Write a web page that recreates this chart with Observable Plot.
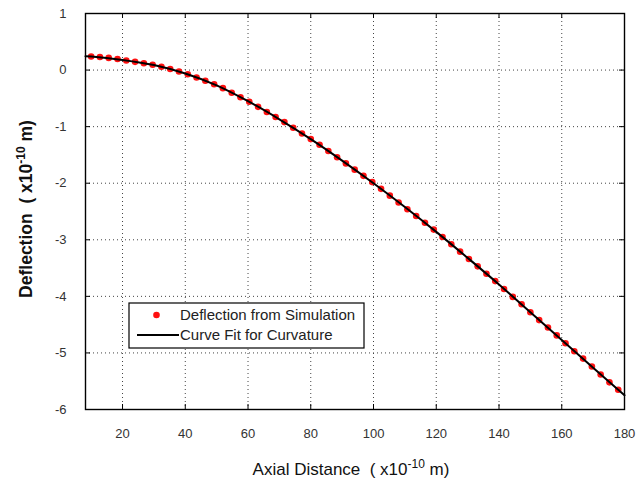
<!DOCTYPE html>
<html>
<head>
<meta charset="utf-8">
<script src="https://cdn.jsdelivr.net/npm/d3@7"></script>
<script src="https://cdn.jsdelivr.net/npm/@observablehq/plot@0.6"></script>
<style>
  html, body { margin: 0; padding: 0; background: #fff; }
</style>
</head>
<body>
<div id="chart"></div>
<script>
// Simulated deflection along the axis (x10^-10 m)
const simX = [10, 12.8, 15.6, 18.4, 21.2, 24, 26.8, 29.6, 32.4, 35.2, 38, 40.8, 43.6, 46.4, 49.2,
  52, 54.8, 57.6, 60.4, 63.2, 66, 68.8, 71.6, 74.4, 77.2, 80, 82.8, 85.6, 88.4, 91.2, 94, 96.8,
  99.6, 102.4, 105.2, 108, 110.8, 113.6, 116.4, 119.2, 122, 124.8, 127.6, 130.4, 133.2, 136,
  138.8, 141.6, 144.4, 147.2, 150, 152.8, 155.6, 158.4, 161.2, 164, 166.8, 169.6, 172.4, 175.2, 178];
const simY = [0.24, 0.23, 0.215, 0.195, 0.17, 0.145, 0.12, 0.095, 0.06, 0.02, -0.025, -0.075, -0.13,
  -0.19, -0.25, -0.32, -0.40, -0.48, -0.56, -0.65, -0.74, -0.83, -0.92, -1.02, -1.12, -1.22, -1.32,
  -1.43, -1.54, -1.65, -1.76, -1.87, -1.98, -2.10, -2.22, -2.34, -2.46, -2.58, -2.70, -2.82, -2.95,
  -3.08, -3.21, -3.34, -3.47, -3.60, -3.73, -3.87, -4.01, -4.14, -4.28, -4.42, -4.55, -4.69, -4.83,
  -4.97, -5.10, -5.24, -5.38, -5.52, -5.65];

// Fitted curvature curve
const fitX = [8.2, 10, 20, 30, 40, 50, 60, 70, 80, 90, 100, 110, 120, 130, 140, 150, 160, 170, 180];
const fitY = [0.245, 0.24, 0.18, 0.09, -0.06, -0.27, -0.55, -0.87, -1.22, -1.60, -2.00, -2.42,
  -2.86, -3.32, -3.79, -4.28, -4.77, -5.26, -5.75];

const xTicks = [20, 40, 60, 80, 100, 120, 140, 160, 180];
const yTicks = [1, 0, -1, -2, -3, -4, -5, -6];
const legendLabels = ["Deflection from Simulation", "Curve Fit for Curvature"];

const sim = simX.map((x, i) => ({x, y: simY[i]}));
const fit = fitX.map((x, i) => ({x, y: fitY[i]}));

const W = 637, H = 484;
const mL = 85, mR = 13, mT = 13, mB = 75;
const innerW = W - mL - mR, innerH = H - mT - mB;
const font = "'Liberation Sans', Arial, Helvetica, sans-serif";

const chart = Plot.plot({
  width: W,
  height: H,
  marginLeft: mL,
  marginRight: mR,
  marginTop: mT,
  marginBottom: mB,
  style: {fontFamily: font, background: "#fff"},
  x: {domain: [8.2, 180]},
  y: {domain: [-6, 1]},
  marks: [
    // dotted grid
    Plot.ruleX(xTicks.slice(0, -1), {x: d => d, stroke: "#444", strokeWidth: 1, strokeDasharray: "1,3"}),
    Plot.ruleY(yTicks.slice(1, -1), {y: d => d, stroke: "#444", strokeWidth: 1, strokeDasharray: "1,3"}),
    Plot.axisX(xTicks, {tickSize: 0, tickPadding: 19, fontSize: 13, fill: "#333",
      tickFormat: d => String(d), label: null}),
    Plot.axisY(yTicks, {tickSize: 0, tickPadding: 19, fontSize: 13, fill: "#333",
      tickFormat: d => String(d), label: null}),
    // short inward tick marks on all four sides of the frame
    Plot.ruleX(xTicks, {x: d => d, insetTop: innerH - 5, stroke: "#000"}),
    Plot.ruleX(xTicks, {x: d => d, insetBottom: innerH - 5, stroke: "#000"}),
    Plot.ruleY(yTicks, {y: d => d, insetRight: innerW - 5, stroke: "#000"}),
    Plot.ruleY(yTicks, {y: d => d, insetLeft: innerW - 5, stroke: "#000"}),
    Plot.dot(sim, {x: "x", y: "y", r: 3.3, fill: "#ff1010", stroke: null}),
    Plot.line(fit, {x: "x", y: "y", stroke: "#000", strokeWidth: 2, curve: "catmull-rom"}),
    Plot.frame({stroke: "#000", strokeWidth: 1.4})
  ]
});

document.getElementById("chart").appendChild(chart);
const svg = d3.select(chart);

// Axis titles with superscript exponents
function unitLabel(g, name, supSize) {
  g.append("tspan").text(name + "  ( x10");
  g.append("tspan").attr("dy", -7).attr("font-size", supSize).text("-10");
  g.append("tspan").attr("dy", 7).text(" m)");
}

const xTitle = svg.append("text")
  .attr("x", 351)
  .attr("y", 475)
  .attr("text-anchor", "middle")
  .attr("font-family", font)
  .attr("font-size", 17)
  .attr("fill", "#111");
unitLabel(xTitle, "Axial Distance", 12);

const yTitle = svg.append("text")
  .attr("transform", `translate(32,209) rotate(-90)`)
  .attr("text-anchor", "middle")
  .attr("font-family", font)
  .attr("font-size", 17.5)
  .attr("font-weight", "bold")
  .attr("fill", "#111");
unitLabel(yTitle, "Deflection", 12);

// Legend box
const lg = svg.append("g")
  .attr("font-family", font)
  .attr("font-size", 15)
  .attr("text-anchor", "start")
  .attr("fill", "#222");
lg.append("rect").attr("x", 129).attr("y", 303).attr("width", 235).attr("height", 45)
  .attr("fill", "#fff").attr("stroke", "#000").attr("stroke-width", 1.2);
lg.append("circle").attr("cx", 156.5).attr("cy", 315).attr("r", 3.3).attr("fill", "#ff1010");
lg.append("line").attr("x1", 137).attr("x2", 179).attr("y1", 335).attr("y2", 335)
  .attr("stroke", "#000").attr("stroke-width", 2);
lg.append("text").attr("x", 180).attr("y", 315).attr("dy", "0.35em").text(legendLabels[0]);
lg.append("text").attr("x", 180).attr("y", 335).attr("dy", "0.35em").text(legendLabels[1]);
</script>
</body>
</html>
